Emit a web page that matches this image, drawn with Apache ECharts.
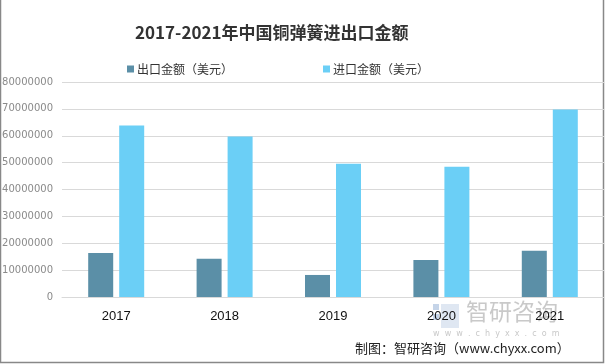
<!DOCTYPE html>
<html><head><meta charset="utf-8">
<script src="https://cdn.jsdelivr.net/npm/echarts@6/dist/echarts.min.js"></script>
<style>html,body{margin:0;padding:0;background:#fff}#c{width:605px;height:364px}</style>
</head><body><div id="c"></div>
<script>
const years = ['2017','2018','2019','2020','2021'];
const exportVals = [16400000, 14200000, 8200000, 13800000, 17200000];
const importVals = [63800000, 59700000, 49600000, 48500000, 69800000];
const seriesNames = ['出口金额（美元）','进口金额（美元）'];
const yTicks = {min:0, max:80000000, interval:10000000};

const chart = echarts.init(document.getElementById('c'), null, {renderer:'canvas'});
chart.setOption({
  animation:false,
  title:{text:'2017-2021年中国铜弹簧进出口金额', left:130, top:19,
    textStyle:{fontFamily:'"Noto Sans CJK SC", sans-serif', fontSize:17, fontWeight:'bold', color:'#333'}},
  legend:{left:122, top:58, itemGap:90, itemWidth:7, itemHeight:7, icon:'rect',
    textStyle:{fontFamily:'"Noto Sans CJK SC", sans-serif', fontSize:12, color:'#333', padding:[0,0,0,-2]},
    data:seriesNames},
  grid:{left:62, right:1, top:82, bottom:67, containLabel:false, outerBoundsMode:'none'},
  xAxis:{type:'category', data:years,
    axisLine:{lineStyle:{color:'#d9d9d9', width:1}}, axisTick:{show:false},
    axisLabel:{margin:13, fontFamily:'"Liberation Sans", sans-serif', fontSize:13, color:'#111'}},
  yAxis:{type:'value', min:yTicks.min, max:yTicks.max, interval:yTicks.interval,
    axisLine:{show:false}, axisTick:{show:false},
    splitLine:{lineStyle:{color:'#d9d9d9', width:1}},
    axisLabel:{margin:9, formatter:v => String(v), fontFamily:'"DejaVu Sans", sans-serif', fontSize:10, color:'#8a8a8a'}},
  series:[
    {name:seriesNames[0], type:'bar', data:exportVals, barWidth:25, barGap:'24%',
      itemStyle:{color:'#5b8fa7'}},
    {name:seriesNames[1], type:'bar', data:importVals, barWidth:25,
      itemStyle:{color:'#6bcff6'}}
  ],
  graphic:[
    {type:'rect', shape:{x:0.5, y:-1, width:603, height:363.5}, style:{fill:'none', stroke:'#888', lineWidth:1.5}, silent:true},
    {type:'rect', shape:{x:433, y:304, width:6, height:6}, style:{fill:'#c5d4e8'}, z:0},
    {type:'rect', shape:{x:433, y:314, width:6, height:6}, style:{fill:'#c5d4e8'}, z:0},
    {type:'rect', shape:{x:441, y:304, width:18, height:24}, style:{fill:'#dfe7f2'}, z:0},
    {type:'text', left:466, top:300, style:{text:'智研咨询', fontFamily:'"Noto Sans CJK SC", sans-serif', fontSize:23, fill:'#c9c9c9'}, z:0},
    {type:'text', left:433, top:330, style:{text:'w  w  w  .  c  h  y  x  x  .  c  o  m', fontFamily:'"DejaVu Sans", sans-serif', fontSize:8, fill:'#c9c9c9'}, z:0},
    {type:'text', left:355, top:342, style:{text:'制图：智研咨询（www.chyxx.com）', fontFamily:'"Noto Sans CJK SC", sans-serif', fontSize:13, fill:'#222'}}
  ]
});
</script></body></html>
